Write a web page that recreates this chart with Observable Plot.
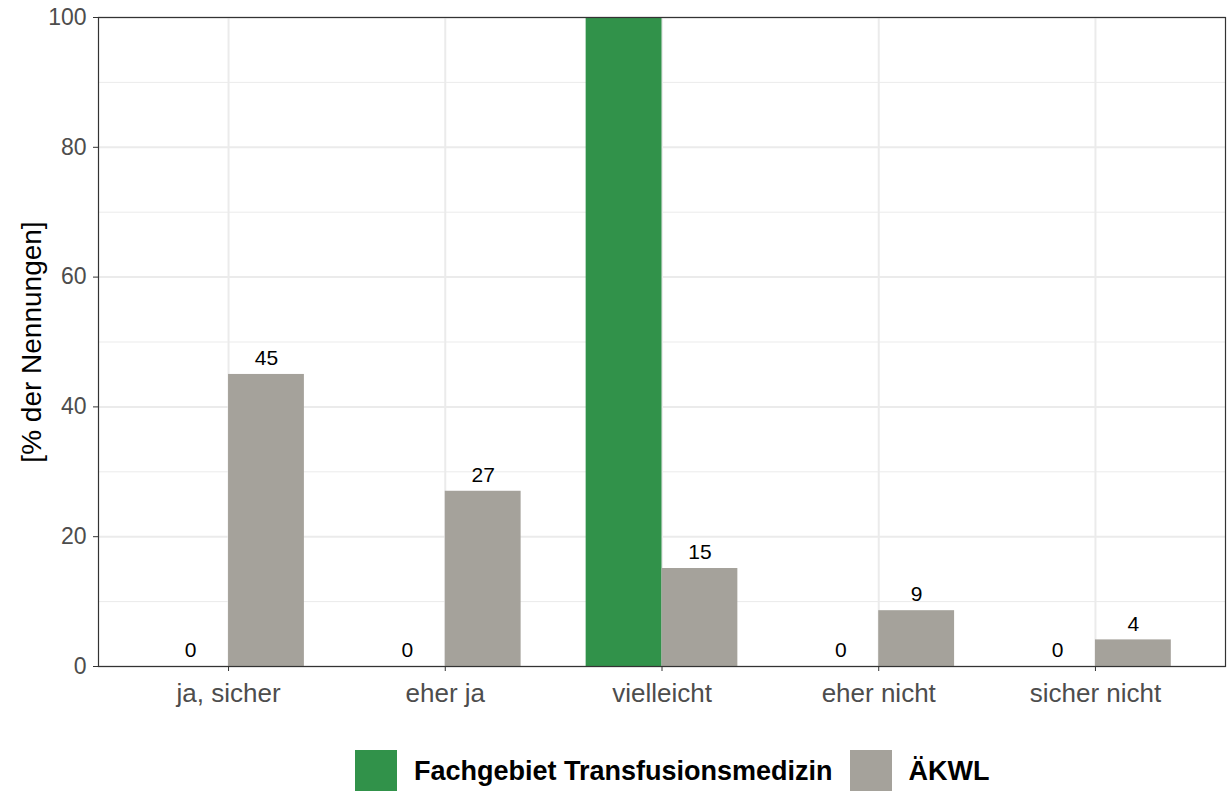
<!DOCTYPE html>
<html><head><meta charset="utf-8">
<script src="https://cdn.jsdelivr.net/npm/d3@7"></script>
<script src="https://cdn.jsdelivr.net/npm/@observablehq/plot@0.6"></script>
<style>
body{margin:0;background:#fff;font-family:"Liberation Sans",Arial,sans-serif;}
#legend{display:flex;align-items:center;margin-top:30px;padding-left:355px;}
.sw{width:42px;height:42px;flex:none;}
.lab{font-weight:bold;font-size:27px;color:#000;margin:0 17px;}
</style></head><body><div id="chart"></div><div id="legend"></div>
<script>
const categories = ["ja, sicher", "eher ja", "vielleicht", "eher nicht", "sicher nicht"];
const seriesNames = ["Fachgebiet Transfusionsmedizin", "ÄKWL"];
const fachValues = [0, 0, 100, 0, 0];
const aekwlValues = [45, 27, 15.1, 8.6, 4.1];
const seriesColors = ["#31924a", "#a5a29b"];
const yTicks = [0, 20, 40, 60, 80, 100];
const yMinorTicks = [10, 30, 50, 70, 90];
const yTitle = "[% der Nennungen]";

// dodge layout (like ggplot position_dodge, total width 0.7 per category)
const groupWidth = 0.7;
const barW = groupWidth / seriesNames.length;
const catPos = categories.map((c, i) => i + 1);

const data = categories.flatMap((c, i) => [fachValues[i], aekwlValues[i]].map((v, j) => ({
  category: c, series: seriesNames[j], value: v,
  x1: catPos[i] - groupWidth / 2 + j * barW,
  x2: catPos[i] - groupWidth / 2 + (j + 1) * barW
})));

const chart = Plot.plot({
  width: 1227, height: 720,
  marginLeft: 98, marginRight: 2, marginTop: 17, marginBottom: 54,
  style: {fontFamily: '"Liberation Sans", Arial, sans-serif', background: "#fff"},
  x: {domain: [0.4, categories.length + 0.6], label: null},
  y: {domain: [0, 100], label: null},
  color: {domain: seriesNames, range: seriesColors},
  marks: [
    Plot.ruleY(yMinorTicks, {stroke: "#ebebeb", strokeWidth: 1}),
    Plot.ruleY(yTicks, {stroke: "#ebebeb", strokeWidth: 2}),
    Plot.ruleX(catPos, {stroke: "#ebebeb", strokeWidth: 2}),
    Plot.rectY(data, {x1: "x1", x2: "x2", y1: 0, y2: "value", fill: "series"}),
    // labels of bars reaching the panel top fall outside the panel and are clipped (as in the reference)
    Plot.text(data, {filter: d => d.value < 100, x: d => (d.x1 + d.x2) / 2, y: "value",
      text: d => String(Math.round(d.value)), dy: -16, fontSize: 21, fill: "#000"}),
    Plot.axisY(yTicks, {tickSize: 5, tickPadding: 7, fontSize: 23, color: "#4d4d4d", stroke: "#333", label: null}),
    Plot.axisX(catPos, {tickSize: 5, tickPadding: 12, fontSize: 26, color: "#4d4d4d", stroke: "#333", label: null,
      tickFormat: p => categories[p - 1]}),
    Plot.text([yTitle], {frameAnchor: "left", textAnchor: "middle", rotate: -90, dx: -66, fontSize: 28, fill: "#000"}),
    Plot.frame({stroke: "#333", strokeWidth: 1.2})
  ]
});
document.getElementById("chart").appendChild(chart);

const legend = document.getElementById("legend");
seriesNames.forEach((s, i) => {
  const sw = document.createElement("div");
  sw.className = "sw";
  sw.style.background = seriesColors[i];
  const lab = document.createElement("span");
  lab.className = "lab";
  lab.textContent = s;
  legend.appendChild(sw);
  legend.appendChild(lab);
});
</script>
</body></html>
